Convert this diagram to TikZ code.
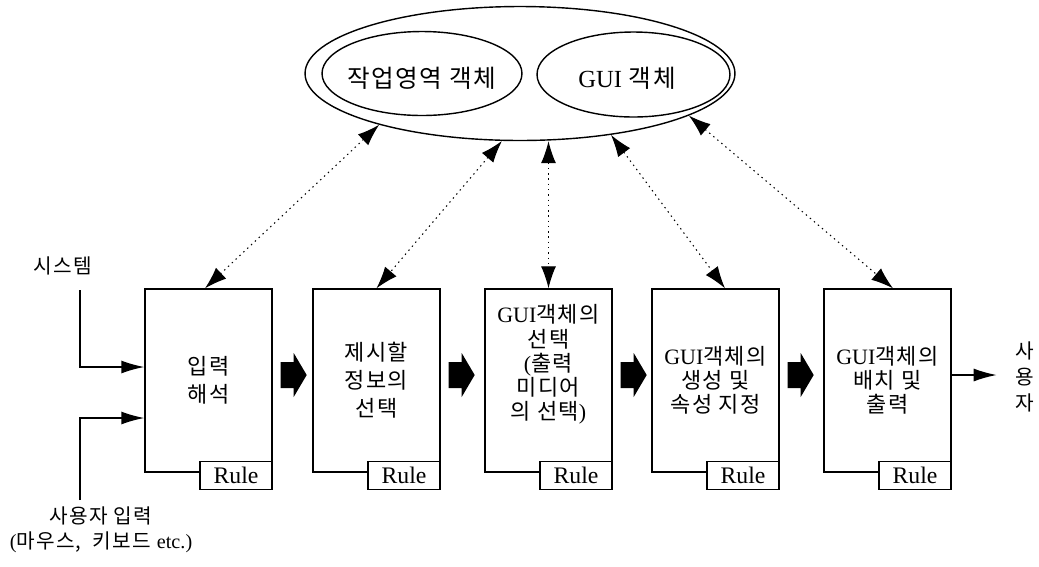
\documentclass[tikz,border=0pt]{standalone}
\usepackage{fontspec}
\setmainfont{Noto Sans CJK KR}
\newfontfamily\lat{Liberation Serif}
\newfontfamily\krsp[LetterSpace=6]{Noto Sans CJK KR}
\usepackage{tikz}
\usetikzlibrary{calc,shapes.geometric,arrows.meta}
\newcommand{\prrule}[1]{\node[rulebox,anchor=north east] (#1r) at ($(#1.south east)+(0,-12)$) {Rule};}
\newcommand{\prblock}[1]{\fill ($(#1.east)+(8,-18.5)$) -- +(13,0) -- +(13,-9) -- +(26,13) -- +(13,35) -- +(13,26) -- +(0,26) -- cycle;}
\tikzset{
  stage/.style={draw,line width=0.8pt,minimum width=2.54cm,minimum height=3.66cm,inner sep=0pt,align=center,font={\krsp\fontsize{12.5}{13.8}\selectfont}},
  rulebox/.style={draw,fill=white,line width=0.8pt,minimum width=1.44cm,minimum height=0.56cm,inner sep=0pt,font={\lat\fontsize{13.5}{14}\selectfont}},
  pool/.style={ellipse,draw,line width=0.8pt,inner sep=0pt},
  pooltext/.style={font={\krsp\fontsize{14}{16}\selectfont}},
  side/.style={align=center,inner sep=1pt,font={\krsp\fontsize{11.5}{14}\selectfont}},
  flow/.style={line width=0.8pt,-{Latex[length=0.46cm,width=0.26cm]}},
  link/.style={line width=0.6pt,dash pattern=on 0.8pt off 2.2pt,{Latex[length=0.44cm,width=0.3cm]}-{Latex[length=0.44cm,width=0.3cm]}}
}
\begin{document}
\begin{tikzpicture}[x=0.02cm,y=-0.02cm]
    \useasboundingbox (0,0) rectangle (1039,566);

    % object pool
    \node[pool,minimum width=8.6cm,minimum height=2.68cm] (objs) at (520,73.5) {};
    \node[pool,minimum width=4cm,minimum height=1.68cm] (wsobj) at (422,73.5) {};
    \node[pool,minimum width=3.86cm,minimum height=1.7cm] (guiobj) at (633.5,74.5) {};
    \node[pooltext] (wst) at (422,78) {작업영역 객체};
    \node[pooltext] (guit) at (627,78) {{\lat GUI} 객체};

    % stages
    \node[stage,font={\krsp\fontsize{12.5}{16}\selectfont}] (interp) at (208.5,380.5) {입력\\해석};
    \node[stage,font={\krsp\fontsize{12.5}{16}\selectfont}] (select) at (376.5,380.5) {제시할\\정보의\\선택};
    \node[stage] (guisel) at (548.5,380.5) {{\lat GUI}객체의\\선택\\{\lat (}출력\\미디어\\의 선택{\lat )}\\[7pt]};
    \node[stage] (guigen) at (715.5,380.5) {{\lat GUI}객체의\\생성 및\\속성 지정};
    \node[stage] (guiout) at (887.5,380.5) {{\lat GUI}객체의\\배치 및\\출력};

    \prrule{interp}
    \prrule{select}
    \prrule{guisel}
    \prrule{guigen}
    \prrule{guiout}

    \prblock{interp}
    \prblock{select}
    \prblock{guisel}
    \prblock{guigen}

    % inputs and output
    \node[side] (sys) at (63,266) {시스템};
    \node[side] (usr) at (101,529.5) {사용자 입력\\{\lat (}마우스,\ \ 키보드 {\lat etc.)}};
    \coordinate (sysin) at (80,290);
    \coordinate (usrin) at (80,500);
    \draw[flow] (sysin) |- ($(interp.west)+(0,-13.5)$);
    \draw[flow] (usrin) |- ($(interp.west)+(0,37.5)$);

    \node[side,font={\fontsize{11.5}{14.7}\selectfont}] (user) at (1025,377) {사\\용\\자};
    \draw[flow] ($(guiout.east)+(0,-5.5)$) -- +(45,0);

    % links to the pool
    \draw[link] (objs.200) -- ([xshift=-0.07cm]interp.north);
    \draw[link] (objs.255) -- (select.north);
    \draw[link] (guisel.north |- objs.south) -- (guisel.north);
    \draw[link] (objs.326) -- ([xshift=0.19cm]guigen.north);
    \draw[link] (objs.346) -- ([xshift=0.11cm]guiout.north);

\end{tikzpicture}
\end{document}
